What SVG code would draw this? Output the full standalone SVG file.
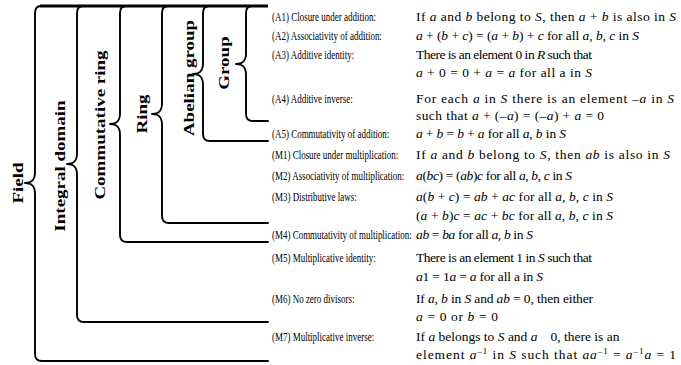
<svg xmlns="http://www.w3.org/2000/svg" width="681" height="365" viewBox="0 0 681 365">
<style>
.br{fill:none;stroke:#000;stroke-width:1.9;stroke-linejoin:round;stroke-linecap:round}
.top{fill:none;stroke:#000;stroke-width:2.8}
.lbl{font-family:"Liberation Serif","Times New Roman",serif;font-weight:bold;font-size:19px;fill:#000}
.t{font-family:"Liberation Serif","Times New Roman",serif;font-size:13.5px;fill:#000}
.i{font-style:italic}
.sup{font-size:9px}
</style>
<rect width="681" height="365" fill="#fff"/>
<g id="connectors">
<path class="top" d="M40,6 H268"/>
</g>
<g id="field">
<path class="br" d="M41,6 Q35,6 35,13 V172 C35,180 32,183 25,183 C32,183 35,186 35,194 V354 Q35,361 42,361 H268"/>
<text class="lbl" transform="translate(23,183) scale(0.8,1) rotate(-90)" text-anchor="middle">Field</text>
</g>
<g id="integral-domain">
<path class="br" d="M83,6 Q77,6 77,13 V153 C77,161 74,164 67,164 C74,164 77,167 77,175 V315 Q77,322 84,322 H268"/>
<text class="lbl" transform="translate(65,166) scale(0.8,1) rotate(-90)" text-anchor="middle">Integral domain</text>
</g>
<g id="commutative-ring">
<path class="br" d="M126,6 Q120,6 120,13 V113 C120,121 117,124 110,124 C117,124 120,127 120,135 V235 Q120,242 127,242 H268"/>
<text class="lbl" transform="translate(105,125) scale(0.8,1) rotate(-90)" text-anchor="middle">Commutative ring</text>
</g>
<g id="ring">
<path class="br" d="M168,6 Q162,6 162,13 V103 C162,111 159,114 152,114 C159,114 162,117 162,125 V216 Q162,223 169,223 H268"/>
<text class="lbl" transform="translate(147,114) scale(0.8,1) rotate(-90)" text-anchor="middle">Ring</text>
</g>
<g id="abelian-group">
<path class="br" d="M209,6 Q203,6 203,13 V63 C203,71 200,74 193,74 C200,74 203,77 203,85 V134 Q203,141 210,141 H268"/>
<text class="lbl" transform="translate(194,78) scale(0.8,1) rotate(-90)" text-anchor="middle">Abelian group</text>
</g>
<g id="group">
<path class="br" d="M252,6 Q246,6 246,13 V53 C246,61 243,64 236,64 C243,64 246,67 246,75 V114 Q246,121 253,121 H268"/>
<text class="lbl" transform="translate(229,63) scale(0.8,1) rotate(-90)" text-anchor="middle">Group</text>
</g>
<g id="axioms" transform="translate(272,0) scale(0.665,1)">
<text class="t" x="0" y="21">(A1) Closure under addition:</text>
<text class="t" x="0" y="40">(A2) Associativity of addition:</text>
<text class="t" x="0" y="59">(A3) Additive identity:</text>
<text class="t" x="0" y="103">(A4) Additive inverse:</text>
<text class="t" x="0" y="138">(A5) Commutativity of addition:</text>
<text class="t" x="0" y="159">(M1) Closure under multiplication:</text>
<text class="t" x="0" y="180">(M2) Associativity of multiplication:</text>
<text class="t" x="0" y="201">(M3) Distributive laws:</text>
<text class="t" x="0" y="239">(M4) Commutativity of multiplication:</text>
<text class="t" x="0" y="262">(M5) Multiplicative identity:</text>
<text class="t" x="0" y="303">(M6) No zero divisors:</text>
<text class="t" x="0" y="341">(M7) Multiplicative inverse:</text>
</g>
<g id="definitions">
<text class="t" x="416" y="21" textLength="260" lengthAdjust="spacing">If <tspan class="i">a</tspan> and <tspan class="i">b</tspan> belong to <tspan class="i">S</tspan>, then <tspan class="i">a</tspan> + <tspan class="i">b</tspan> is also in <tspan class="i">S</tspan></text>
<text class="t" x="416" y="40" textLength="223" lengthAdjust="spacing"><tspan class="i">a</tspan> + (<tspan class="i">b</tspan> + <tspan class="i">c</tspan>) = (<tspan class="i">a</tspan> + <tspan class="i">b</tspan>) + <tspan class="i">c</tspan> for all <tspan class="i">a</tspan>, <tspan class="i">b</tspan>, <tspan class="i">c</tspan> in <tspan class="i">S</tspan></text>
<text class="t" x="416" y="59" textLength="176" lengthAdjust="spacing">There is an element 0 in <tspan class="i">R</tspan> such that</text>
<text class="t" x="416" y="77" textLength="176" lengthAdjust="spacing"><tspan class="i">a</tspan> + 0 = 0 + <tspan class="i">a</tspan> = <tspan class="i">a</tspan> for all a in <tspan class="i">S</tspan></text>
<text class="t" x="416" y="103" textLength="258" lengthAdjust="spacing">For each <tspan class="i">a</tspan> in <tspan class="i">S</tspan> there is an element –<tspan class="i">a</tspan> in <tspan class="i">S</tspan></text>
<text class="t" x="416" y="120" textLength="188" lengthAdjust="spacing">such that <tspan class="i">a</tspan> + (–<tspan class="i">a</tspan>) = (–<tspan class="i">a</tspan>) + <tspan class="i">a</tspan> = 0</text>
<text class="t" x="416" y="138" textLength="150" lengthAdjust="spacing"><tspan class="i">a</tspan> + <tspan class="i">b</tspan> = <tspan class="i">b</tspan> + <tspan class="i">a</tspan> for all <tspan class="i">a</tspan>, <tspan class="i">b</tspan> in <tspan class="i">S</tspan></text>
<text class="t" x="416" y="159" textLength="254" lengthAdjust="spacing">If <tspan class="i">a</tspan> and <tspan class="i">b</tspan> belong to <tspan class="i">S</tspan>, then <tspan class="i">ab</tspan> is also in <tspan class="i">S</tspan></text>
<text class="t" x="416" y="180" textLength="156" lengthAdjust="spacing"><tspan class="i">a</tspan>(<tspan class="i">bc</tspan>) = (<tspan class="i">ab</tspan>)<tspan class="i">c</tspan> for all <tspan class="i">a</tspan>, <tspan class="i">b</tspan>, <tspan class="i">c</tspan> in <tspan class="i">S</tspan></text>
<text class="t" x="416" y="201" textLength="197" lengthAdjust="spacing"><tspan class="i">a</tspan>(<tspan class="i">b</tspan> + <tspan class="i">c</tspan>) = <tspan class="i">ab</tspan> + <tspan class="i">ac</tspan> for all <tspan class="i">a</tspan>, <tspan class="i">b</tspan>, <tspan class="i">c</tspan> in <tspan class="i">S</tspan></text>
<text class="t" x="416" y="220" textLength="197" lengthAdjust="spacing">(<tspan class="i">a</tspan> + <tspan class="i">b</tspan>)<tspan class="i">c</tspan> = <tspan class="i">ac</tspan> + <tspan class="i">bc</tspan> for all <tspan class="i">a</tspan>, <tspan class="i">b</tspan>, <tspan class="i">c</tspan> in <tspan class="i">S</tspan></text>
<text class="t" x="416" y="239" textLength="117" lengthAdjust="spacing"><tspan class="i">ab</tspan> = <tspan class="i">ba</tspan> for all <tspan class="i">a</tspan>, <tspan class="i">b</tspan> in <tspan class="i">S</tspan></text>
<text class="t" x="416" y="262" textLength="176" lengthAdjust="spacing">There is an element 1 in <tspan class="i">S</tspan> such that</text>
<text class="t" x="416" y="281" textLength="127" lengthAdjust="spacing"><tspan class="i">a</tspan>1 = 1<tspan class="i">a</tspan> = <tspan class="i">a</tspan> for all a in <tspan class="i">S</tspan></text>
<text class="t" x="416" y="303" textLength="177" lengthAdjust="spacing">If <tspan class="i">a</tspan>, <tspan class="i">b</tspan> in <tspan class="i">S</tspan> and <tspan class="i">ab</tspan> = 0, then either</text>
<text class="t" x="416" y="321" textLength="82" lengthAdjust="spacing"><tspan class="i">a</tspan> = 0 or <tspan class="i">b</tspan> = 0</text>
<text class="t" x="416" y="341">If <tspan class="i">a</tspan> belongs to <tspan class="i">S</tspan> and <tspan class="i">a</tspan><tspan dx="13">0, there is an</tspan></text>
<text class="t" x="416" y="359" textLength="260" lengthAdjust="spacing">element <tspan class="i">a</tspan><tspan class="sup" dy="-5">–1</tspan><tspan dy="5"> in </tspan><tspan class="i">S</tspan> such that <tspan class="i">aa</tspan><tspan class="sup" dy="-5">–1</tspan><tspan dy="5"> = </tspan><tspan class="i">a</tspan><tspan class="sup" dy="-5">–1</tspan><tspan class="i" dy="5">a</tspan> = 1</text>
</g>
</svg>
